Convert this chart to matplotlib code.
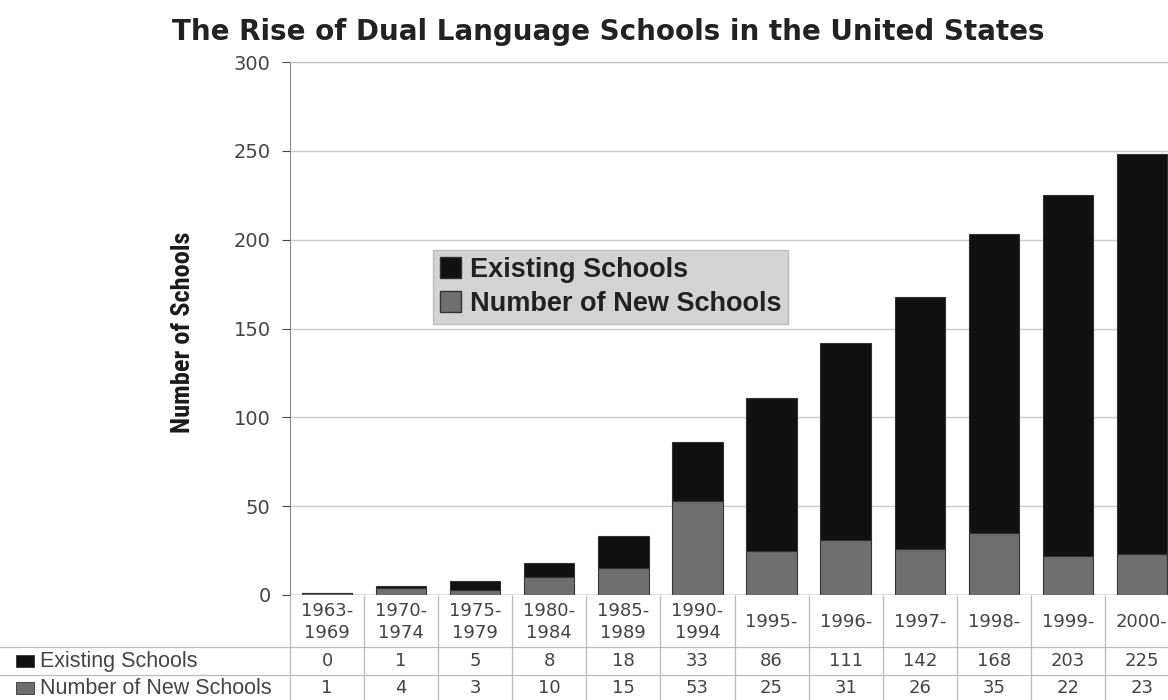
import matplotlib.pyplot as plt
import numpy as np
from matplotlib.patches import Rectangle
from matplotlib import font_manager

periods = ["1963-\n1969", "1970-\n1974", "1975-\n1979", "1980-\n1984", "1985-\n1989",
           "1990-\n1994", "1995-", "1996-", "1997-", "1998-", "1999-", "2000-"]
existing = [0, 1, 5, 8, 18, 33, 86, 111, 142, 168, 203, 225]
new_schools = [1, 4, 3, 10, 15, 53, 25, 31, 26, 35, 22, 23]
row_labels = ["Existing Schools", "Number of New Schools"]

black = "#111111"
gray = "#6f6f6f"
text_col = "#444444"
line_col = "#bbbbbb"

names = {f.name for f in font_manager.fontManager.ttflist}
arial = "Liberation Sans" if "Liberation Sans" in names else "DejaVu Sans"
narrow = next((n for n in ["Liberation Sans Narrow", "Roboto Condensed", "Open Sans Condensed"]
               if n in names), None)

fig = plt.figure(figsize=(11.68, 7.0), dpi=100)
W, H = 1168, 700

# main plot area (right side is cut off like the reference)
left, right, top, zero = 290, 1179, 62, 595
ax = fig.add_axes([left / W, 1 - zero / H, (right - left) / W, (zero - top) / H])
x = np.arange(len(periods))
ax.bar(x, new_schools, width=0.68, color=gray, edgecolor="#333333", linewidth=0.8, zorder=3)
ax.bar(x, existing, bottom=new_schools, width=0.68, color=black, edgecolor="#333333",
       linewidth=0.8, zorder=3)
ax.set_xlim(-0.5, len(periods) - 0.5)
ax.set_ylim(0, 300)
ax.set_yticks(range(0, 301, 50))
ax.tick_params(axis="y", labelsize=14, colors=text_col, length=6, width=0.8, pad=8)
ax.set_xticks(np.arange(-0.5, len(periods), 1))
ax.set_xticklabels([])
ax.tick_params(axis="x", length=5, color=line_col)
ax.grid(axis="y", color="#cccccc", linewidth=1.0, zorder=0)
for s in ["right", "bottom"]:
    ax.spines[s].set_visible(False)
ax.spines["top"].set_color("#bbbbbb")
ax.spines["left"].set_color("#888888")
ax.axhline(0, color="#888888", linewidth=1.0, zorder=4)

if narrow:
    fig.text(183 / W, 1 - 332 / H, "Number of Schools", rotation=90, ha="center", va="center",
             fontsize=19, fontweight="bold", color="#1a1a1a", family=narrow)
else:
    fig.text(183 / W, 1 - 332 / H, "Number of Schools", rotation=90, ha="center", va="center",
             fontsize=15.5, fontweight="bold", color="#1a1a1a", family=arial)

fig.text(172 / W, 1 - 32 / H, "The Rise of Dual Language Schools in the United States",
         fontsize=20, fontweight="bold", color="#222222", va="center", ha="left")

# legend
leg = ax.legend([Rectangle((0, 0), 1, 1, fc=black, ec="#333333"),
                 Rectangle((0, 0), 1, 1, fc=gray, ec="#333333")],
                ["Existing Schools", "Number of New Schools"],
                loc="upper left", bbox_to_anchor=((433 - left) / (right - left), 1 - (250 - top) / (zero - top)),
                borderaxespad=0, prop={"family": arial, "size": 19.5, "weight": "bold"},
                frameon=True, fancybox=False, handlelength=0.8, handleheight=0.8,
                handletextpad=0.3, borderpad=0.25, labelspacing=0.3)
leg.get_frame().set_facecolor("#d3d3d3")
leg.get_frame().set_edgecolor("#bbbbbb")
leg.get_frame().set_alpha(1)
for t in leg.get_texts():
    t.set_color("#222222")

# data table under the chart
tab = fig.add_axes([left / W, 0, (right - left) / W, (H - 598) / H])
tab.set_xlim(-0.5, len(periods) - 0.5)
tab.set_ylim(700, 598)
tab.axis("off")
col_w = (right - left) / len(periods)
lab_x = -0.5 - (left - 16) / col_w
for i, p in enumerate(periods):
    tab.text(i, 622, p, ha="center", va="center", fontsize=13, color=text_col, linespacing=1.25)
    tab.text(i, 661, str(existing[i]), ha="center", va="center", fontsize=13, color=text_col)
    tab.text(i, 688, str(new_schools[i]), ha="center", va="center", fontsize=13, color=text_col)
for b in np.arange(-0.5, len(periods), 1):
    tab.plot([b, b], [598, 700], color=line_col, linewidth=0.9, clip_on=False)
for yy in [647, 675]:
    tab.plot([-0.5 - left / col_w, len(periods) - 0.5], [yy, yy], color=line_col,
             linewidth=0.9, clip_on=False)
for yy, lab, c in [(661, row_labels[0], black), (688, row_labels[1], gray)]:
    tab.add_patch(Rectangle((lab_x, yy - 6), 18 / col_w, 12, fc=c, ec="#333333", lw=0.6,
                            clip_on=False))
    tab.text(lab_x + 24 / col_w, yy, lab, ha="left", va="center", fontsize=15.5,
             color=text_col, clip_on=False, family=arial)

fig.savefig("out.png", dpi=100)
